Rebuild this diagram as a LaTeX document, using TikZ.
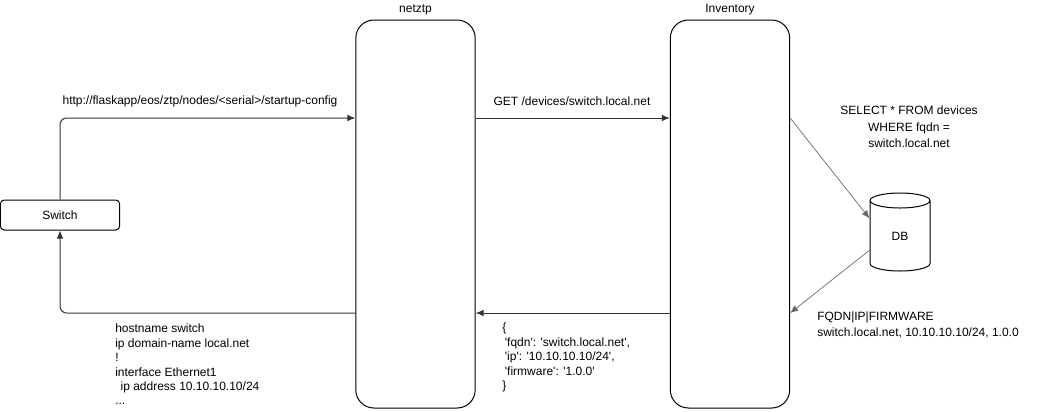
\documentclass[tikz,border=0pt]{standalone}
\usepackage{fontspec}
\setmainfont{Liberation Sans}
\usetikzlibrary{arrows.meta,shapes.geometric}
\tikzset{
  service/.style={draw, line width=0.75pt, rounded corners=13.5pt, minimum width=89.5pt, minimum height=291pt},
  flow/.style={->, line width=0.75pt, draw=black!80},
  query/.style={->, line width=0.5pt, draw=black!60},
  txt/.style={inner sep=0pt, font=\fontsize{9}{10.8}\selectfont},
}
\newcommand{\q}{\textquotesingle}
\begin{document}
\begin{tikzpicture}[x=0.75pt, y=-0.75pt, >={Latex[length=6pt,width=5pt]}]
            \useasboundingbox (0,0) rectangle (1046,411);

            % 定义点
            \coordinate (upper) at (0,118);
            \coordinate (lower) at (0,313);

            % 服务
            \node[draw, line width=0.75pt, rounded corners=3pt, minimum width=89.5pt, minimum height=22.5pt, txt] (sw) at (60,215) {Switch};
            \node[service] (nz) at (415.5,214) {};
            \node[service] (inv) at (730,214) {};
            \node[txt] (nzlabel) at (415.5,10) {netztp};
            \node[txt] (invlabel) at (730,10) {Inventory};

            % 数据库
            \node[cylinder, shape border rotate=90, draw, line width=0.75pt, minimum width=45pt, minimum height=58.5pt, aspect=0.9, txt] (db) at (900,236) {DB};

            % 绘制连线
            \draw[flow, rounded corners=5pt] (sw.north) |- (nz.west |- upper);
            \draw[flow] (nz.east |- upper) -- (inv.west |- upper);
            \draw[flow] (inv.west |- lower) -- (nz.east |- lower);
            \draw[flow, rounded corners=5pt] (nz.west |- lower) -| (sw.south);
            \draw[query] (inv.east |- upper) -- (db.150);
            \draw[query] (db.205) -- (inv.east |- lower);

            % 标签
            \node[txt] (url) at (200,101) {http://flaskapp/eos/ztp/nodes/<serial>/startup-config};
            \node[txt] (get) at (572,101) {GET /devices/switch.local.net};
            \node[txt, align=center, font=\fontsize{9}{12.4}\selectfont] (sql) at (909,127) {SELECT * FROM devices\\WHERE fqdn =\\switch.local.net};
            \node[txt, align=left, anchor=north west, font=\fontsize{9}{12}\selectfont] (rows) at (817,312) {FQDN|IP|FIRMWARE\\switch.local.net, 10.10.10.10/24, 1.0.0};
            \node[txt, align=left, anchor=north west] (json) at (502,323) {\{\\\hspace{2pt}\q fqdn\q: \q switch.local.net\q,\\\hspace{2pt}\q ip\q: \q 10.10.10.10/24\q,\\\hspace{2pt}\q firmware\q: \q 1.0.0\q\\\}};
            \node[txt, align=left, anchor=north west] (config) at (115,324) {hostname switch\\ip domain-name local.net\\!\\interface Ethernet1\\\hspace{4pt}ip address 10.10.10.10/24\\...};
        \end{tikzpicture}
\end{document}
